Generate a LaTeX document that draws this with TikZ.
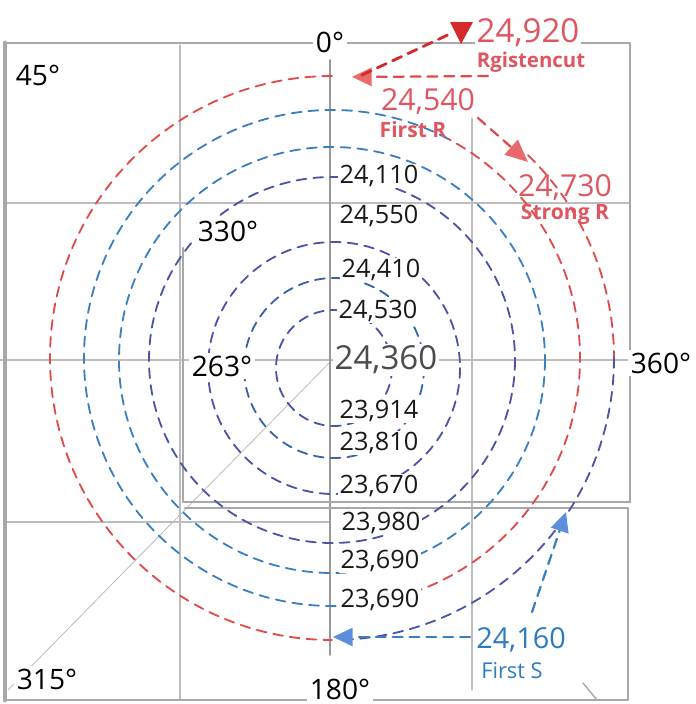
\documentclass[tikz,border=0pt]{standalone}
\usepackage{fontspec}
\setmainfont{Open Sans}
\usetikzlibrary{arrows.meta}
\definecolor{rred}{HTML}{E04A4A}
\definecolor{rtext}{HTML}{DF5660}
\definecolor{rdark}{HTML}{D42A2A}
\definecolor{rhead}{HTML}{E86A6A}
\definecolor{sblue}{HTML}{3A80C0}
\definecolor{mblue}{HTML}{3A62A8}
\definecolor{dblue}{HTML}{4A55A8}
\definecolor{btext}{HTML}{2D7CC1}
\definecolor{bhead}{HTML}{5B8FDC}
\definecolor{gline}{HTML}{BDBDBD}
\definecolor{gframe}{HTML}{A8A8A8}
\tikzset{
	ring/.style={dash pattern=on 7pt off 5pt, line width=1.3pt},
	grid line/.style={gline, line width=1pt},
	frame line/.style={gframe, line width=2pt},
	val/.style={fill=white, inner sep=1pt, anchor=west, text=black!90, font=\fontsize{18}{18}\selectfont},
	deg/.style={fill=white, inner sep=2pt, text=black, font=\fontsize{20}{20}\selectfont},
	rval/.style={inner sep=1pt, text=rtext, font=\fontsize{21.5}{21.5}\selectfont},
	rsub/.style={inner sep=1pt, text=rtext, font=\bfseries\fontsize{15}{15}\selectfont},
}
\begin{document}
\begin{tikzpicture}[x=0.025cm, y=-0.025cm, line join=round, line cap=round, >=stealth]
	\useasboundingbox (0,0) rectangle (696,704);
	\path	(332,358) coordinate (O)
		(332,360) coordinate (M)
		(334,368) coordinate (I)
		(488,76) coordinate (rA)
		(352,77) coordinate (rB)
		(362,75) coordinate (rC)
		(452,33) coordinate (rD)
		(478,118) coordinate (rE)
		(528,162) coordinate (rF)
		(470,637) coordinate (bA)
		(333,637) coordinate (bB)
		(532,612) coordinate (bC)
		(566,512) coordinate (bD);
	\draw[grid line] (5,203)--(630,203) (0,360)--(630,360) (5,522)--(330,522);
	\draw[grid line] (180,45)--(180,700) (472,118)--(472,690);
	\draw[gline, line width=0.6pt] (M)--(8,690);
	\draw[gray!80, line width=1.2pt] (330,60)--(330,655);
	\draw[gframe, line width=3.5pt] (5,43)--(5,700);
	\draw[frame line] (5,43)--(630,43)--(630,502) (5,700)--(628,700)--(628,508)--(185,508);
	\draw[frame line] (183,248)--(183,502)--(630,502);
	\draw[gframe, line width=1pt] (583,683)--(597,700);
	\draw[ring, rred] (O) ++(-90:282) arc[start angle=-90, end angle=-270, radius=282];
	\draw[ring, rred] (O) ++(-46:282) arc[start angle=-46, end angle=0, radius=282];
	\draw[ring, dblue] (O) ++(0:282) arc[start angle=0, end angle=86, radius=282];
	\draw[ring, sblue] (O) ++(-62:248) arc[start angle=-62, end angle=-285, radius=248];
	\draw[ring, rred] (O) ++(75:248) arc[start angle=75, end angle=-62, radius=248];
	\draw[ring, sblue] (M) circle[radius=213];
	\draw[ring, dblue] (M) circle[radius=183];
	\draw[ring, dblue] (I) circle[radius=126];
	\draw[ring, mblue] (I) circle[radius=90];
	\draw[ring, dblue] (I) circle[radius=58];
	\draw[ring, rred, line width=1.6pt, -{Triangle[length=14pt, width=13pt, fill=rhead, color=rhead]}] (rA)--(rB);
	\draw[ring, rdark, line width=2pt] (rC)--(rD);
	\fill[rdark] (450,22)--(473,22)--(461,44)--cycle;
	\draw[ring, rred, line width=1.6pt, -{Triangle[length=16pt, width=14pt, fill=rhead, color=rhead]}] (rE)--(rF);
	\draw[ring, sblue, line width=1.6pt, -{Triangle[length=14pt, width=13pt, fill=bhead, color=bhead]}] (bA)--(bB);
	\draw[ring, sblue, line width=1.6pt, -{Triangle[length=14pt, width=13pt, fill=bhead, color=bhead]}] (bC)--(bD);
	\foreach \v/\x/\y in {24{,}110/338/176, 24{,}550/338/216, 24{,}410/340/270, 24{,}530/337/311, 23{,}914/338/411, 23{,}810/338/443, 23{,}670/338/486, 23{,}980/340/523, 23{,}690/339/561, 23{,}690/339/600}
		\node[val] (v\y) at (\x,\y) {\v};
	\node[val, text=black!70, font=\fontsize{23.5}{23.5}\selectfont] (vc) at (333,360) {24,360};
	\foreach \t/\x/\y in {0/330/42, 45/38/75, 330/228/231, 263/222/366, 360/661/363, 315/47/679, 180/340/689}
		\node[deg] (d\t) at (\x,\y) {\t°};
	\node[rval, fill=white, font=\fontsize{23.5}{23.5}\selectfont] (r1) at (528,33) {24,920};
	\node[rsub, font=\bfseries\fontsize{14.5}{14.5}\selectfont] (s1) at (531,62) {Rgistencut};
	\node[rval] (r2) at (428,101) {24,540};
	\node[rsub] (s2) at (413,130) {First R};
	\node[rval] (r3) at (565,187) {24,730};
	\node[rsub] (s3) at (565,214) {Strong R};
	\node[rval, fill=white, text=btext, font=\fontsize{20.5}{20.5}\selectfont] (b1) at (521,640) {24,160};
	\node[inner sep=1pt, text=btext, font=\fontsize{15.5}{15.5}\selectfont] (b2) at (512,671) {First S};
\end{tikzpicture}
\end{document}
